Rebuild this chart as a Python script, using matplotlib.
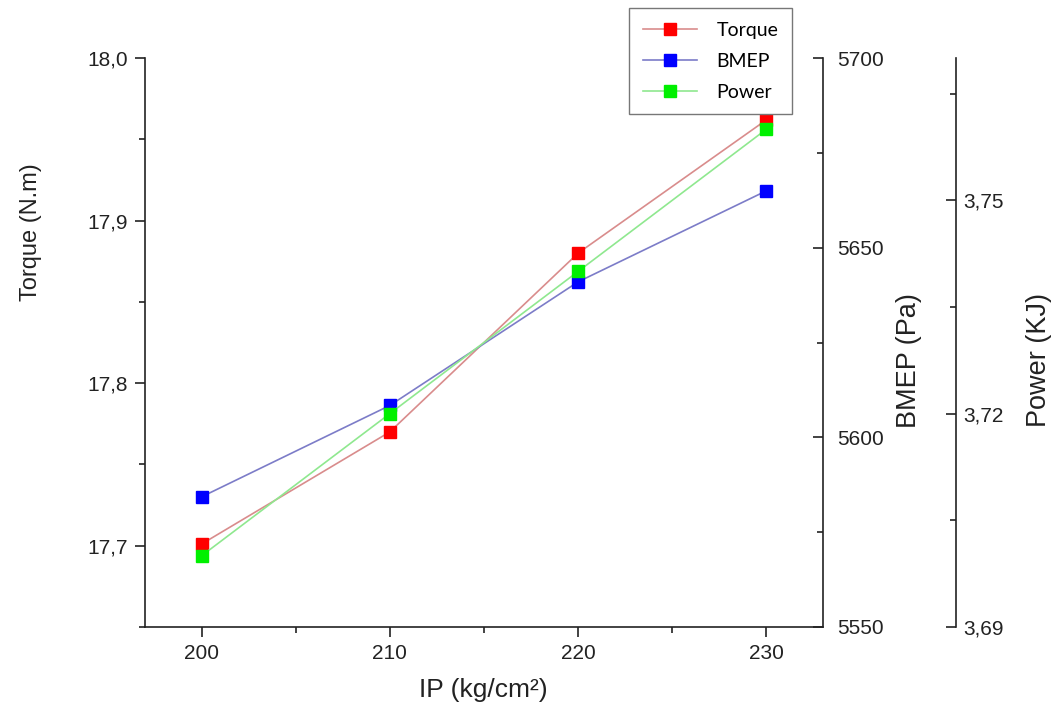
import matplotlib
matplotlib.use("Agg")
import matplotlib.pyplot as plt
from matplotlib.ticker import MultipleLocator, FuncFormatter

plt.rcParams['font.family'] = ['Liberation Sans', 'DejaVu Sans']

# injection pressure vs engine output
ip = [200, 210, 220, 230]
torque = [17.701, 17.770, 17.880, 17.962]   # N.m
bmep = [5584.3, 5608.4, 5641.0, 5665.0]     # Pa
power = [3.700, 3.720, 3.740, 3.760]        # KJ


def comma(fmt):
    return FuncFormatter(lambda v, p: (fmt % v).replace('.', ','))


fig = plt.figure(figsize=(10.55, 7.2), dpi=100)
ax = fig.add_axes([145 / 1055, 1 - 627 / 720, 678 / 1055, 569 / 720])
ax2 = ax.twinx()
ax3 = ax.twinx()

ink = '#222222'
lw_sp = 1.2

l1, = ax.plot(ip, torque, color='#d98c8c', lw=1.2, marker='s', ms=9,
              mfc='#ff0000', mec='#ff0000', label='Torque')
l2, = ax2.plot(ip, bmep, color='#7c7cc8', lw=1.2, marker='s', ms=9,
               mfc='#0000ff', mec='#0000ff', label='BMEP')
l3, = ax3.plot(ip, power, color='#8fe88f', lw=1.2, marker='s', ms=9,
               mfc='#00f000', mec='#00f000', label='Power')

ax.set_xlim(197, 233)
ax.set_ylim(17.65, 18.0)
ax2.set_ylim(5550, 5700)
ax3.set_ylim(3.69, 3.77)

for a in (ax, ax2, ax3):
    for s in a.spines.values():
        s.set_visible(False)
        s.set_linewidth(lw_sp)
        s.set_color(ink)

ax.spines['left'].set_visible(True)
ax.spines['bottom'].set_visible(True)
ax2.spines['right'].set_visible(True)
ax3.spines['right'].set_visible(True)
ax3.spines['right'].set_position(('axes', 1.196))

ax.xaxis.set_major_locator(MultipleLocator(10))
ax.xaxis.set_minor_locator(MultipleLocator(5))
ax.yaxis.set_major_locator(MultipleLocator(0.1))
ax.yaxis.set_minor_locator(MultipleLocator(0.05))
ax.yaxis.set_major_formatter(comma('%.1f'))
ax2.yaxis.set_major_locator(MultipleLocator(50))
ax2.yaxis.set_minor_locator(MultipleLocator(25))
ax3.set_yticks([3.69, 3.72, 3.75])
ax3.set_yticks([3.705, 3.735, 3.765], minor=True)
ax3.yaxis.set_major_formatter(comma('%.2f'))

ax.tick_params(axis='both', which='major', direction='out', length=7, width=lw_sp,
               colors=ink, labelsize=15, pad=5)
ax.tick_params(axis='both', which='minor', direction='out', length=4, width=lw_sp, colors=ink)
ax2.tick_params(axis='y', which='major', direction='in', length=7, width=lw_sp,
                colors=ink, labelsize=15, pad=10)
ax2.tick_params(axis='y', which='minor', direction='in', length=4, width=lw_sp, colors=ink)
ax3.tick_params(axis='y', which='major', direction='in', length=7, width=lw_sp,
                colors=ink, labelsize=15, pad=5)
ax3.tick_params(axis='y', which='minor', direction='in', length=4, width=lw_sp, colors=ink)

ax.set_ylabel('Torque (N.m)', fontsize=17, color=ink)
ax.yaxis.set_label_coords(-0.152, 0.694)
ax2.set_ylabel('BMEP (Pa)', fontsize=19.5, color=ink)
ax2.yaxis.set_label_coords(1.107, 0.469)
ax3.set_ylabel('Power (KJ)', fontsize=19.5, color=ink)
ax3.yaxis.set_label_coords(1.300, 0.469)
ax.set_xlabel('IP (kg/cm²)', fontsize=19, color=ink)
ax.xaxis.set_label_coords(0.4985, -0.09)

leg = fig.legend(handles=[l1, l2, l3], loc='upper left',
                 bbox_to_anchor=(629 / 1055, 1 - 8 / 720), bbox_transform=fig.transFigure,
                 borderaxespad=0, numpoints=1, handlelength=2.8, handletextpad=1.0,
                 labelspacing=0.72, fancybox=False, framealpha=1, edgecolor='#777777',
                 prop={'family': ['Lato', 'DejaVu Sans'], 'size': 14}, borderpad=0.7)
leg.get_frame().set_linewidth(1.0)

fig.savefig('out.png', dpi=100)
